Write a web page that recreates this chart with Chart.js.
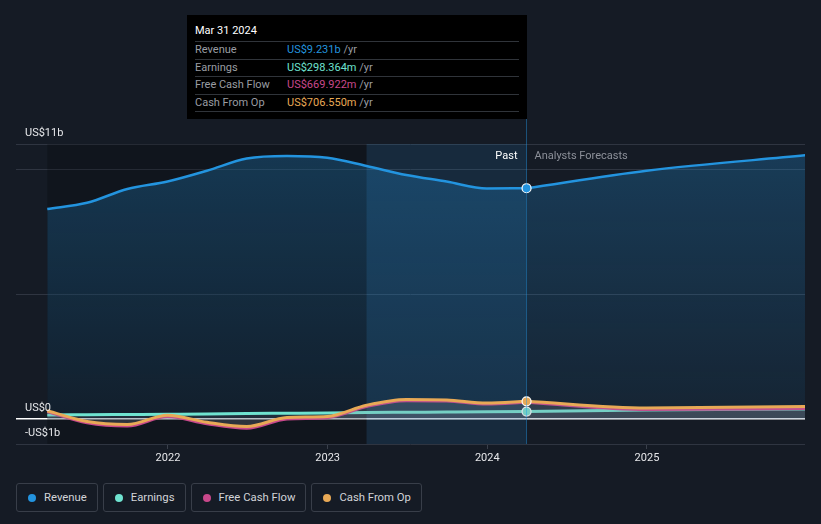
<!DOCTYPE html>
<html>
<head>
<meta charset="utf-8">
<script src="https://cdn.jsdelivr.net/npm/chart.js@4.4.1/dist/chart.umd.min.js"></script>
<style>
  html, body { margin: 0; padding: 0; background: #151b25; }
  body { width: 821px; height: 524px; position: relative; overflow: hidden; font-family: Roboto, "Noto Sans", sans-serif; }
  #wrap { position: absolute; left: 0; top: 0; width: 821px; height: 470px; }
  #tip {
    position: absolute; left: 187px; top: 15px; width: 340px; height: 104px;
    background: #000; color: #fff; font-size: 11px; box-sizing: border-box; padding: 0 8px;
  }
  #tip .title { height: 26px; line-height: 32px; }
  #tip .row { height: 17.5px; line-height: 16.5px; box-sizing: border-box; border-top: 1px solid #30343a; color: #9a9da3; position: relative; }
  #tip .row:last-child { border-bottom: 1px solid #30343a; height: 18.5px; }
  #tip .row span.v { position: absolute; left: 92px; }
  #legend { position: absolute; left: 16px; top: 483px; display: flex; gap: 5px; }
  .item {
    height: 29px; border: 1px solid #383e49; border-radius: 3px; box-sizing: border-box;
    display: flex; align-items: center; padding: 0 10px 0 11px; color: #d2d4d8; font-size: 11.3px;
  }
  .dot { width: 8px; height: 8px; border-radius: 50%; margin-right: 8px; }
</style>
</head>
<body>
<div id="wrap"><canvas id="chart" width="821" height="470"></canvas></div>
<div id="tip"></div>
<div id="legend"></div>
<script>
document.addEventListener("DOMContentLoaded", () => {
  // Data (US$ billions)
  const pastDates = ["2021-03-31", "2021-06-30", "2021-09-30", "2021-12-31", "2022-03-31", "2022-06-30",
    "2022-09-30", "2022-12-31", "2023-03-31", "2023-06-30", "2023-09-30", "2023-12-31", "2024-03-31"];
  const forecastDates = ["2024-03-31", "2024-12-31", "2025-12-31"];

  const revenuePast = [8.4, 8.65, 9.2, 9.5, 9.93, 10.42, 10.52, 10.45, 10.12, 9.76, 9.5, 9.22, 9.231];
  const revenueForecast = [9.231, 9.93, 10.55];
  const earningsPast = [0.16, 0.17, 0.18, 0.19, 0.2, 0.22, 0.23, 0.24, 0.26, 0.27, 0.28, 0.29, 0.298];
  const earningsForecast = [0.298, 0.36, 0.4];
  const fcfPast = [0.3, -0.15, -0.28, 0.1, -0.19, -0.37, 0.0, 0.05, 0.5, 0.73, 0.72, 0.6, 0.67];
  const fcfForecast = [0.67, 0.38, 0.42];
  const cfoPast = [0.33, -0.1, -0.22, 0.15, -0.13, -0.3, 0.06, 0.1, 0.55, 0.78, 0.76, 0.64, 0.707];
  const cfoForecast = [0.707, 0.44, 0.5];

  const yearTicks = [2022, 2023, 2024, 2025];
  const yTicks = [-1, 0, 5, 10, 11];
  const yLabels = { 11: "US$11b", 0: "US$0", "-1": "-US$1b" };

  const series = [
    { name: "Revenue", color: "#2394df", past: revenuePast, forecast: revenueForecast, value: "US$9.231b", order: 3 },
    { name: "Earnings", color: "#6fe3d0", past: earningsPast, forecast: earningsForecast, value: "US$298.364m", order: 2 },
    { name: "Free Cash Flow", color: "#c8488b", past: fcfPast, forecast: fcfForecast, value: "US$669.922m", order: 1 },
    { name: "Cash From Op", color: "#e8a956", past: cfoPast, forecast: cfoForecast, value: "US$706.550m", order: 0 },
  ];

  const todayDate = "2024-03-31";
  const lastYearDate = "2023-03-31";

  function toYear(s) {
    const d = new Date(s + "T00:00:00Z");
    const start = Date.UTC(d.getUTCFullYear(), 0, 1);
    const end = Date.UTC(d.getUTCFullYear() + 1, 0, 1);
    return d.getUTCFullYear() + (d - start) / (end - start);
  }

  const pastX = pastDates.map(toYear);
  const fcX = forecastDates.map(toYear);
  const todayX = toYear(todayDate);

  function revenueFill(ctx) {
    const area = ctx.chart.chartArea;
    if (!area) return "rgba(35,148,223,0.2)";
    const g = ctx.chart.ctx.createLinearGradient(0, area.top, 0, area.bottom);
    g.addColorStop(0, "rgba(35,148,223,0.28)");
    g.addColorStop(1, "rgba(35,148,223,0.06)");
    return g;
  }

  // Build datasets: past + forecast per series
  const datasets = [];
  series.forEach((s, i) => {
    const isRev = i === 0;
    const common = {
      borderColor: s.color,
      borderWidth: isRev ? 2.5 : 3,
      cubicInterpolationMode: "monotone",
      fill: "origin",
      backgroundColor: isRev ? revenueFill : "rgba(140,145,160,0.13)",
      pointBackgroundColor: s.color,
      pointBorderColor: "#ffffff",
      pointBorderWidth: 1.2,
      pointRadius: 0,
      order: s.order,
    };
    datasets.push({
      ...common,
      label: s.name,
      data: s.past.map((v, k) => ({ x: pastX[k], y: v })),
      pointRadius: (c) => (c.dataIndex === s.past.length - 1 && i !== 2 ? 4.5 : 0),
    });
    datasets.push({
      ...common,
      label: s.name + " forecast",
      data: s.forecast.map((v, k) => ({ x: fcX[k], y: v })),
    });
  });

  const bandsPlugin = {
    id: "bands",
    beforeDatasetsDraw(chart) {
      const { ctx, chartArea, scales } = chart;
      const x0 = scales.x.getPixelForValue(pastX[0]);
      const x1 = scales.x.getPixelForValue(toYear(lastYearDate));
      const x2 = scales.x.getPixelForValue(todayX);
      ctx.save();
      ctx.fillStyle = "rgba(0,0,0,0.2)";
      ctx.fillRect(x0, chartArea.top, x1 - x0, chartArea.bottom - chartArea.top);
      ctx.fillStyle = "rgba(35,148,223,0.13)";
      ctx.fillRect(x1, chartArea.top, x2 - x1, chartArea.bottom - chartArea.top);
      ctx.restore();
    },
    afterDatasetsDraw(chart) {
      const { ctx, chartArea, scales } = chart;
      const xt = Math.floor(scales.x.getPixelForValue(todayX)) + 0.5;
      ctx.save();
      ctx.strokeStyle = "rgba(35,148,223,0.45)";
      ctx.lineWidth = 1;
      ctx.beginPath();
      ctx.moveTo(xt, 119);
      ctx.lineTo(xt, chartArea.bottom);
      ctx.stroke();

      ctx.font = "11px Roboto, sans-serif";
      ctx.textBaseline = "middle";
      ctx.textAlign = "right";
      ctx.fillStyle = "#ffffff";
      ctx.fillText("Past", xt - 9, 156);
      ctx.textAlign = "left";
      ctx.fillStyle = "#8c9099";
      ctx.fillText("Analysts Forecasts", xt + 8, 156);

      // y labels above their gridlines
      ctx.fillStyle = "#e6e7ea";
      ctx.textBaseline = "alphabetic";
      Object.keys(yLabels).forEach((k) => {
        const y = scales.y.getPixelForValue(Number(k));
        ctx.fillText(yLabels[k], 25, y - 8);
      });
      ctx.restore();
    },
  };

  new Chart(document.getElementById("chart"), {
    type: "line",
    data: { datasets },
    options: {
      responsive: false,
      animation: false,
      layout: { padding: { left: 16, right: 16, top: 144, bottom: 0 } },
      plugins: { legend: { display: false }, tooltip: { enabled: false } },
      scales: {
        x: {
          type: "linear",
          min: 2021.048,
          max: 2025.99,
          afterBuildTicks: (s) => { s.ticks = yearTicks.map((v) => ({ value: v })); },
          afterFit: (s) => { s.height = 26; },
          grid: { drawOnChartArea: false, drawTicks: true, tickLength: 5, color: "#3a404b" },
          border: { display: false },
          ticks: { color: "#e6e7ea", font: { size: 11, family: "Roboto" }, padding: 3, maxRotation: 0,
            callback: (v) => String(v) },
        },
        y: {
          min: -1,
          max: 11,
          afterBuildTicks: (s) => { s.ticks = yTicks.map((v) => ({ value: v })); },
          afterFit: (s) => { s.width = 0; },
          ticks: { display: false },
          border: { display: false },
          grid: {
            drawTicks: false,
            color: (c) => (c.tick && c.tick.value === 0 ? "#ffffff" : "#2f3541"),
            lineWidth: (c) => (c.tick && c.tick.value === 0 ? 1.5 : 1),
          },
        },
      },
    },
    plugins: [bandsPlugin],
  });

  // Tooltip box
  const tip = document.getElementById("tip");
  let html = '<div class="title">Mar 31 2024</div>';
  series.forEach((s) => {
    html += `<div class="row">${s.name}<span class="v"><span style="color:${s.color}">${s.value}</span> /yr</span></div>`;
  });
  tip.innerHTML = html;

  // Legend
  const legend = document.getElementById("legend");
  series.forEach((s) => {
    const item = document.createElement("div");
    item.className = "item";
    item.innerHTML = `<span class="dot" style="background:${s.color}"></span>${s.name}`;
    legend.appendChild(item);
  });
});
</script>
</body>
</html>
